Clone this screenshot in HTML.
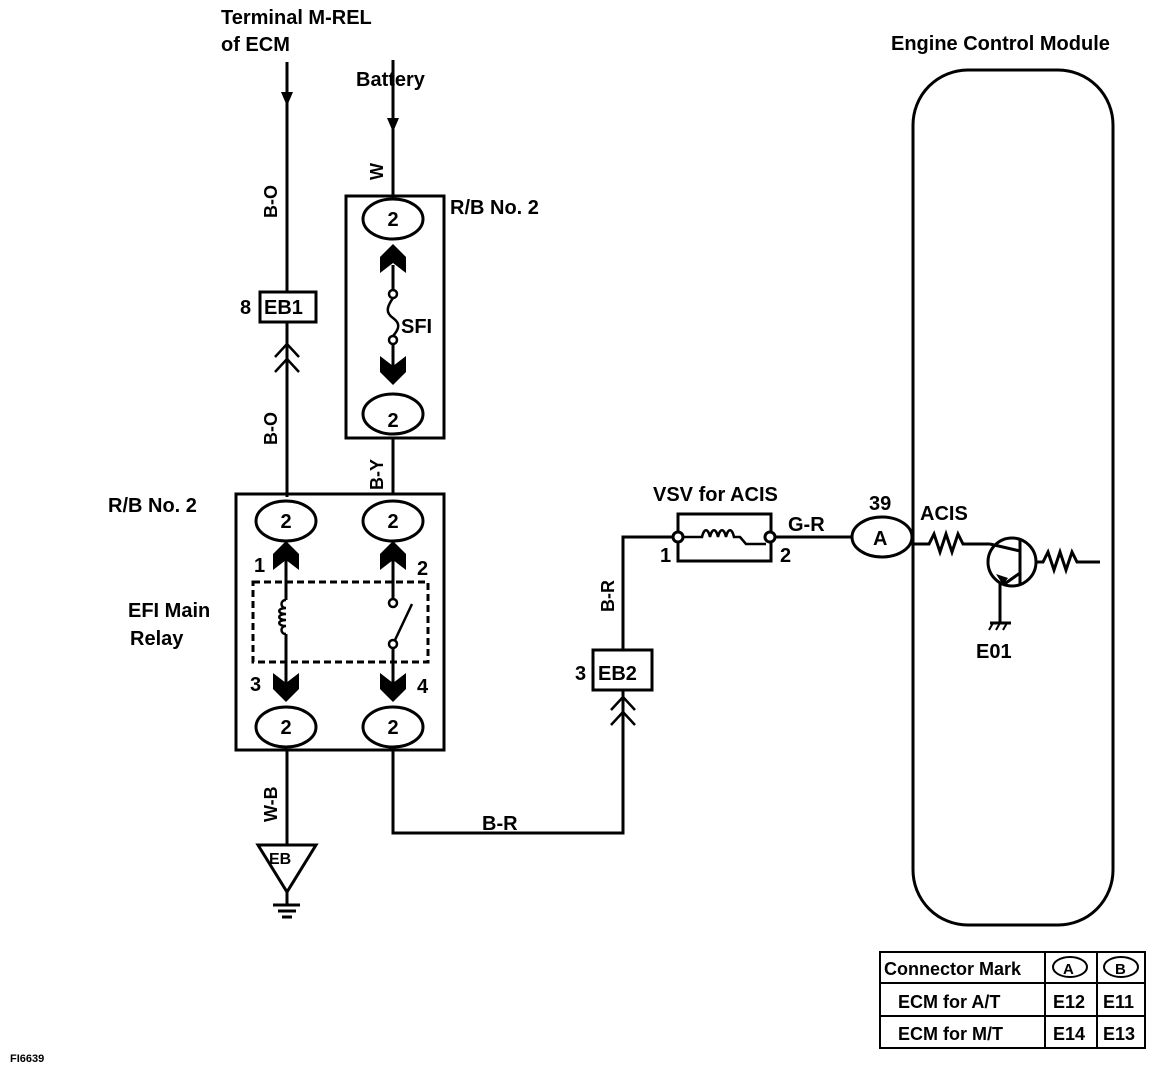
<!DOCTYPE html>
<html><head><style>
body{margin:0;background:#fff}
svg{display:block}
text{font-family:"Liberation Sans",Arial,sans-serif;font-weight:bold;fill:#000}
</style></head><body>
<svg width="1168" height="1070" viewBox="0 0 1168 1070" xmlns="http://www.w3.org/2000/svg">
<defs>
<g id="chu"><path d="M-13,14 L-13,-2 L0,-15 L13,-2 L13,14 L0,4 Z" fill="#000"/></g>
<g id="chd"><path d="M-13,-14 L-13,2 L0,15 L13,2 L13,-14 L0,-4 Z" fill="#000"/></g>
</defs>
<g stroke="#000" stroke-width="3" fill="none">
<line x1="287" y1="62" x2="287" y2="292"/>
<line x1="287" y1="322" x2="287" y2="497"/>
<rect x="260" y="292" width="56" height="30"/>
<path d="M275,357 L287,344 L299,357 M275,372 L287,359 L299,372" stroke-width="2.5"/>
<line x1="393" y1="60" x2="393" y2="196"/>
<rect x="346" y="196" width="98" height="242"/>
<ellipse cx="393" cy="219" rx="30" ry="20"/>
<ellipse cx="393" cy="414" rx="30" ry="20"/>
<line x1="393" y1="265" x2="393" y2="290"/>
<line x1="393" y1="343" x2="393" y2="370"/>
<path d="M393,298 C386,308 386,313 393,318 C400,323 400,328 393,336" stroke-width="2.5"/>
<circle cx="393" cy="294" r="4" fill="#fff" stroke-width="2.5"/>
<circle cx="393" cy="340" r="4" fill="#fff" stroke-width="2.5"/>
<line x1="393" y1="438" x2="393" y2="494"/>
<rect x="236" y="494" width="208" height="256"/>
<ellipse cx="286" cy="521" rx="30" ry="20"/>
<ellipse cx="393" cy="521" rx="30" ry="20"/>
<ellipse cx="286" cy="727" rx="30" ry="20"/>
<ellipse cx="393" cy="727" rx="30" ry="20"/>
<rect x="253" y="582" width="175" height="80" stroke-dasharray="7,4"/>
<line x1="286" y1="560" x2="286" y2="600"/>
<path d="M286,600 c-6,0 -6,8 0,8 c-9,0 -9,6 0,6 c-9,0 -9,6 0,6 c-9,0 -9,6 0,6 c-6,0 -6,8 0,8" stroke-width="2.5"/>
<line x1="286" y1="634" x2="286" y2="690"/>
<line x1="393" y1="560" x2="393" y2="599"/>
<circle cx="393" cy="603" r="4" fill="#fff" stroke-width="2.5"/>
<line x1="395" y1="640" x2="412" y2="604" stroke-width="2.5"/>
<circle cx="393" cy="644" r="4" fill="#fff" stroke-width="2.5"/>
<line x1="393" y1="648" x2="393" y2="690"/>
<line x1="287" y1="750" x2="287" y2="845"/>
<path d="M258,845 L316,845 L287,892 Z"/>
<line x1="287" y1="892" x2="287" y2="905"/>
<line x1="273" y1="905" x2="300" y2="905"/>
<line x1="278" y1="911" x2="296" y2="911"/>
<line x1="282" y1="917" x2="292" y2="917"/>
<path d="M393,750 L393,833 L623,833 L623,690"/>
<rect x="593" y="650" width="59" height="40"/>
<path d="M611,710 L623,697 L635,710 M611,725 L623,712 L635,725" stroke-width="2.5"/>
<path d="M623,650 L623,537 L674,537"/>
<rect x="678" y="514" width="93" height="47"/>
<path d="M682,537 L702,537 C704,528 708,528 710,537 C712,528 716,528 718,537 C720,528 724,528 726,537 C728,528 732,528 734,537 L740,537 L746,544 L766,544" stroke-width="2.5"/>
<circle cx="678" cy="537" r="5" fill="#fff"/>
<circle cx="770" cy="537" r="5" fill="#fff"/>
<line x1="775" y1="537" x2="852" y2="537"/>
<ellipse cx="882" cy="537" rx="30" ry="20"/>
<rect x="913" y="70" width="200" height="855" rx="55" ry="55"/>
<path d="M913,544 L929,544 L934,534 L940,552 L946,534 L952,552 L958,534 L963,544 L990,544"/>
<circle cx="1012" cy="562" r="24"/>
<line x1="1020" y1="540" x2="1020" y2="584"/>
<path d="M990,544 L1020,551 M1020,573 L1003,585" />
<path d="M1036,562 L1043,562 L1048,552 L1054,570 L1060,552 L1066,570 L1072,552 L1077,562 L1100,562"/>
<line x1="1000" y1="582" x2="1000" y2="623"/>
<line x1="990" y1="623" x2="1011" y2="623"/>
<line x1="989" y1="630" x2="993" y2="623" stroke-width="2"/><line x1="996" y1="630" x2="1000" y2="623" stroke-width="2"/><line x1="1003" y1="630" x2="1007" y2="623" stroke-width="2"/>
<rect x="880" y="952" width="265" height="96" stroke-width="2"/>
<line x1="880" y1="983" x2="1145" y2="983" stroke-width="2"/>
<line x1="880" y1="1016" x2="1145" y2="1016" stroke-width="2"/>
<line x1="1045" y1="952" x2="1045" y2="1048" stroke-width="2"/>
<line x1="1097" y1="952" x2="1097" y2="1048" stroke-width="2"/>
<ellipse cx="1070" cy="967" rx="17" ry="10" stroke-width="2"/>
<ellipse cx="1121" cy="967" rx="17" ry="10" stroke-width="2"/>
</g>
<path d="M281,92 L293,92 L287,106 Z"/>
<path d="M387,118 L399,118 L393,132 Z"/>
<path d="M1003,585 L996,574 L1008,578 Z"/>
<use href="#chu" x="393" y="259"/>
<use href="#chd" x="393" y="370"/>
<use href="#chu" x="286" y="556"/>
<use href="#chu" x="393" y="556"/>
<use href="#chd" x="286" y="687"/>
<use href="#chd" x="393" y="687"/>
<g font-size="20">
<text x="221" y="24">Terminal M-REL</text>
<text x="221" y="51">of ECM</text>
<text x="356" y="86">Battery</text>
<text x="891" y="50">Engine Control Module</text>
<text x="450" y="214">R/B No. 2</text>
<text x="108" y="512">R/B No. 2</text>
<text x="128" y="617">EFI Main</text>
<text x="130" y="645">Relay</text>
<text x="401" y="333">SFI</text>
<text x="240" y="314">8</text>
<text x="264" y="314">EB1</text>
<text x="575" y="680">3</text>
<text x="598" y="680">EB2</text>
<text x="653" y="501">VSV for ACIS</text>
<text x="788" y="531">G-R</text>
<text x="920" y="520">ACIS</text>
<text x="869" y="510">39</text>
<text x="873" y="545">A</text>
<text x="976" y="658">E01</text>
<text x="660" y="562">1</text>
<text x="780" y="562">2</text>
<text x="482" y="830">B-R</text>
<g text-anchor="middle">
<text x="393" y="427">2</text><text x="393" y="226">2</text>
<text x="286" y="528">2</text><text x="393" y="528">2</text>
<text x="286" y="734">2</text><text x="393" y="734">2</text>
</g>
<text x="254" y="572">1</text><text x="417" y="575">2</text>
<text x="250" y="691">3</text><text x="417" y="693">4</text>
<text x="269" y="864" font-size="16" font-weight="normal">EB</text>
</g>
<g font-size="18">
<text transform="translate(277,218) rotate(-90)">B-O</text>
<text transform="translate(277,445) rotate(-90)">B-O</text>
<text transform="translate(383,180) rotate(-90)">W</text>
<text transform="translate(383,490) rotate(-90)">B-Y</text>
<text transform="translate(277,822) rotate(-90)">W-B</text>
<text transform="translate(614,612) rotate(-90)">B-R</text>
<text x="884" y="975">Connector Mark</text>
<text x="898" y="1008">ECM for A/T</text>
<text x="898" y="1040">ECM for M/T</text>
<text x="1053" y="1008">E12</text><text x="1103" y="1008">E11</text>
<text x="1053" y="1040">E14</text><text x="1103" y="1040">E13</text>
<text x="1063" y="974" font-size="15">A</text><text x="1115" y="974" font-size="15">B</text>
</g>
<text x="10" y="1062" font-size="11">FI6639</text>
</svg>
</body></html>
